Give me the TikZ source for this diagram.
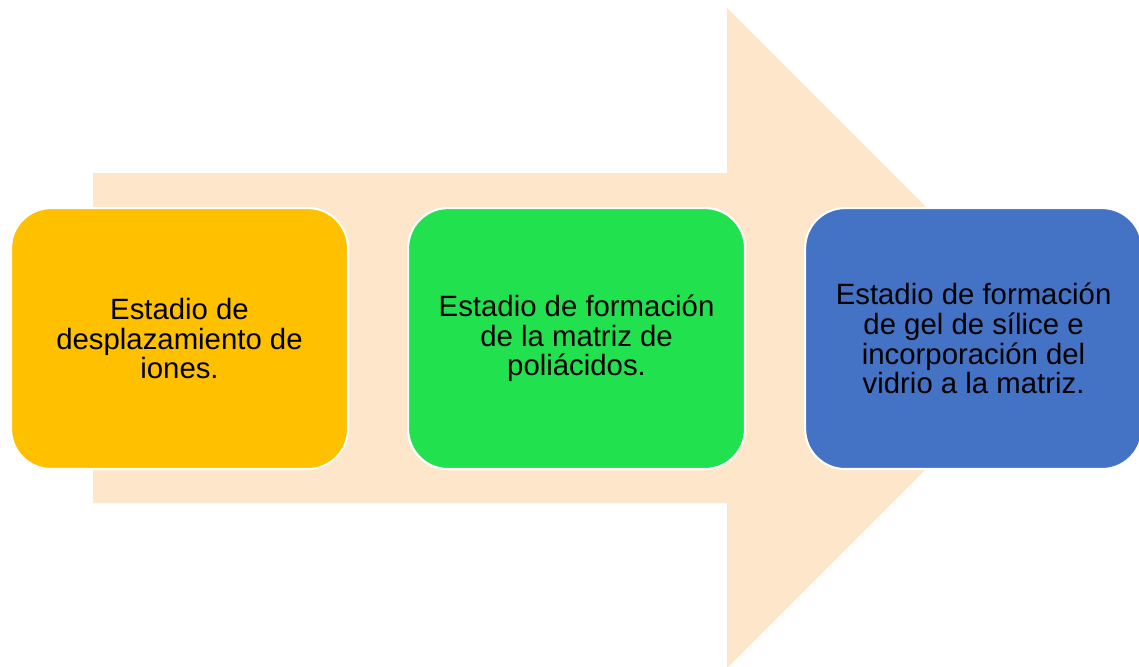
\documentclass[tikz,border=0pt]{standalone}
\usepackage{fontspec}
\setmainfont{Liberation Sans}
\usetikzlibrary{positioning}
\definecolor{peach}{HTML}{FEE6CB}
\definecolor{stageA}{HTML}{FFC000}
\definecolor{stageB}{HTML}{22E14E}
\definecolor{stageC}{HTML}{4472C4}
\newcommand*{\bwd}{6.74cm}
\newcommand*{\bht}{5.22cm}
\newcommand*{\gap}{1.16cm}
\tikzset{
    stagebox/.style = {draw=white, line width=1.2pt, rounded corners=0.8cm,
        minimum width=\bwd, minimum height=\bht, align=center,
        font=\fontsize{16.7}{16.9}\selectfont, text=black}
}

\begin{document}
\begin{tikzpicture}[x=0.02cm, y=-0.02cm]
    \useasboundingbox (0,0) rectangle (1139,666);
    % big arrow in the background
    \fill [peach] (93,173) -- (727,173) -- (727,8) -- (1057,338) -- (727,668) -- (727,503) -- (93,503) -- cycle;
    % stages
    \node [stagebox, fill=stageA, anchor=north west] (ions) at (10,207) {Estadio de\\desplazamiento de\\iones.};
    \node [stagebox, fill=stageB, right=\gap of ions] (matrix) {Estadio de formación\\de la matriz de\\poliácidos.};
    \node [stagebox, fill=stageC, right=\gap of matrix] (gel) {Estadio de formación\\de gel de sílice e\\incorporación del\\vidrio a la matriz.};
\end{tikzpicture}
\end{document}
